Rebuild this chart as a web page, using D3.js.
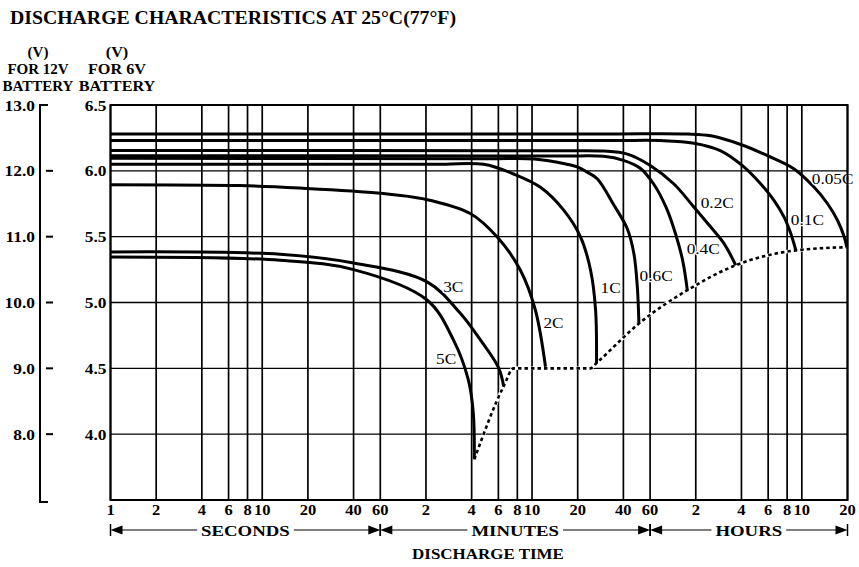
<!DOCTYPE html>
<html>
<head>
<meta charset="utf-8">
<script src="https://cdn.jsdelivr.net/npm/d3@7"></script>
<style>
  body { margin: 0; background: #fff; }
  svg text { font-family: "Liberation Serif", "Times New Roman", serif; fill: #000; }
</style>
</head>
<body>
<script>
const width = 859;
const height = 567;

// discharge curves: [time in seconds, volts for 6V battery]
const c005 = [[1, 6.28], [1700, 6.28], [6340, 6.28], [9040, 6.266], [14250, 6.20], [21380, 6.115], [32040, 6.014], [43420, 5.875], [53230, 5.75], [61940, 5.623], [68520, 5.497], [71290, 5.42]];
const c01 = [[1, 6.23], [2000, 6.23], [4230, 6.23], [7010, 6.21], [10520, 6.152], [14620, 6.039], [19320, 5.90], [23640, 5.774], [27520, 5.648], [30480, 5.522], [32880, 5.396]];
const c02 = [[1, 6.155], [900, 6.152], [1780, 6.15], [2550, 6.127], [3630, 6.039], [5170, 5.90], [7010, 5.724], [9040, 5.573], [11060, 5.447], [13210, 5.283]];
const c04 = [[1, 6.115], [900, 6.112], [1780, 6.11], [2400, 6.08], [3100, 6.02], [3800, 5.90], [4600, 5.72], [5300, 5.52], [5900, 5.32], [6340, 5.09]];
const c06 = [[1, 6.095], [300, 6.092], [620, 6.09], [1020, 6.05], [1191, 6.03], [1386, 5.99], [1614, 5.94], [2078, 5.74], [2547, 5.56], [2816, 5.37], [2965, 5.12], [3038, 4.84]];
const c1 = [[1, 6.05], [140, 6.05], [288, 6.05], [454, 5.976], [682, 5.875], [973, 5.70], [1254, 5.497], [1459, 5.245], [1574, 4.943], [1597, 4.54]];
const c2 = [[1, 5.895], [7.1, 5.888], [17.7, 5.869], [60, 5.83], [116, 5.787], [235, 5.676], [355, 5.495], [503, 5.245], [631, 4.943], [736, 4.512]];
const c3 = [[1, 5.384], [13.1, 5.366], [40, 5.30], [122, 5.157], [202, 4.918], [274, 4.716], [362, 4.502], [390, 4.363]];
const c5 = [[1, 5.346], [13.1, 5.321], [40, 5.25], [122, 5.019], [182, 4.716], [228, 4.414], [246, 4.164], [250, 3.809]];

// final discharge voltage line (dotted)
const cutoff = [[250, 3.809], [390, 4.363], [454, 4.50], [1459, 4.50], [1597, 4.54], [3038, 4.84], [6340, 5.094], [13210, 5.283], [32880, 5.396], [71290, 5.42]];

// curve labels
const labelText = ["0.05C", "0.1C", "0.2C", "0.4C", "0.6C", "1C", "2C", "3C", "5C"];
const labelTime = [41900, 30480, 7760, 6270, 3070, 1698, 713, 156, 140];
const labelVolt = [5.90, 5.59, 5.72, 5.37, 5.16, 5.07, 4.81, 5.08, 4.53];

// axes
const tickSeconds = [1, 2, 4, 6, 8, 10, 20, 40, 60, 120, 240, 360, 480, 600, 1200, 2400, 3600, 7200, 14400, 21600, 28800, 36000, 72000];
const tickLabels = ["1", "2", "4", "6", "8", "10", "20", "40", "60", "2", "4", "6", "8", "10", "20", "40", "60", "2", "4", "6", "8", "10", "20"];
const unitNames = ["SECONDS", "MINUTES", "HOURS"];
const unitStart = [1, 60, 3600];
const unitEnd = [60, 3600, 72000];
const volts6 = [4.0, 4.5, 5.0, 5.5, 6.0, 6.5];
const volts12 = [8.0, 9.0, 10.0, 11.0, 12.0, 13.0];
const gridVolts = [4.0, 4.5, 5.0, 5.5, 6.0];

const curves = [c005, c01, c02, c04, c06, c1, c2, c3, c5];

const svg = d3.select("body").append("svg")
  .attr("width", width)
  .attr("height", height);

const x = d3.scaleLog().domain([1, 72000]).range([110.5, 847.5]);
const y = d3.scaleLinear().domain([3.5, 6.5]).range([500, 105]);
const y12 = d3.scaleLinear().domain([7, 13]).range([500, 105]);

// stretch text horizontally (the scanned type is wide)
function widen(sel, k) {
  sel.each(function () {
    const len = this.getComputedTextLength();
    d3.select(this).attr("textLength", len * k).attr("lengthAdjust", "spacingAndGlyphs");
  });
}

// title
svg.append("text")
  .attr("x", 10).attr("y", 24)
  .attr("font-size", 19).attr("font-weight", "bold")
  .text("DISCHARGE CHARACTERISTICS AT 25°C(77°F)")
  .call(widen, 1.04);

// axis headers
const headers = [["(V)", "FOR 12V", "BATTERY"], ["(V)", "FOR 6V", "BATTERY"]];
const headerX = [38, 117];
const headerWide = [1.0, 1.08];
headers.forEach((lines, i) => {
  svg.selectAll(null).data(lines).enter().append("text")
    .attr("x", headerX[i])
    .attr("y", (d, j) => 57 + j * 17)
    .attr("text-anchor", "middle")
    .attr("font-size", 15).attr("font-weight", "bold")
    .text(d => d)
    .call(widen, headerWide[i]);
});

// 12V bracket axis
svg.append("path")
  .attr("d", `M48,${y12(13)}H40V${y12(7) + 2}H48`)
  .attr("fill", "none").attr("stroke", "#000").attr("stroke-width", 2);
svg.selectAll(".t12").data(volts12.filter(v => v < 13)).enter().append("line")
  .attr("x1", 46).attr("x2", 53)
  .attr("y1", d => y12(d)).attr("y2", d => y12(d))
  .attr("stroke", "#000").attr("stroke-width", 2);
svg.selectAll(".l12").data(volts12).enter().append("text")
  .attr("x", 35).attr("y", d => y12(d) + 5.5)
  .attr("text-anchor", "end")
  .attr("font-size", 15.5).attr("font-weight", "bold")
  .text(d => d.toFixed(1))
  .call(widen, 1.12);

// 6V labels
svg.selectAll(".l6").data(volts6).enter().append("text")
  .attr("x", 106.5).attr("y", d => y(d) + 5.5)
  .attr("text-anchor", "end")
  .attr("font-size", 15.5).attr("font-weight", "bold")
  .text(d => d.toFixed(1))
  .call(widen, 1.12);

// grid
const plot = svg.append("g");
plot.selectAll(".hg").data(gridVolts).enter().append("line")
  .attr("x1", x(1)).attr("x2", x(72000))
  .attr("y1", d => y(d)).attr("y2", d => y(d))
  .attr("stroke", "#000").attr("stroke-width", 1.3);
plot.selectAll(".vg").data(tickSeconds).enter().append("line")
  .attr("x1", d => x(d)).attr("x2", d => x(d))
  .attr("y1", y(6.5)).attr("y2", y(3.5))
  .attr("stroke", "#000").attr("stroke-width", 1.7);

// cutoff line, white underlay breaks the grid beneath it
const cutLine = d3.line().x(d => x(d[0])).y(d => y(d[1])).curve(d3.curveMonotoneX);
plot.append("path").attr("d", cutLine(cutoff))
  .attr("fill", "none").attr("stroke", "#fff").attr("stroke-width", 3.5);
plot.append("path").attr("d", cutLine(cutoff))
  .attr("fill", "none").attr("stroke", "#000").attr("stroke-width", 2.6)
  .attr("stroke-dasharray", "3.5,3");

// discharge curves
const line = d3.line().x(d => x(d[0])).y(d => y(d[1])).curve(d3.curveCatmullRom.alpha(0.5));
plot.selectAll(".curve").data(curves).enter().append("path")
  .attr("d", line)
  .attr("fill", "none").attr("stroke", "#000").attr("stroke-width", 3)
  .attr("stroke-linecap", "butt");

// curve labels
plot.selectAll(".clab").data(labelText).enter().append("text")
  .attr("x", (d, i) => x(labelTime[i]))
  .attr("y", (d, i) => y(labelVolt[i]))
  .attr("font-size", 15)
  .attr("stroke", "#fff").attr("stroke-width", 2.5).attr("paint-order", "stroke")
  .text(d => d)
  .call(widen, 1.15);

// plot frame on top
plot.append("rect")
  .attr("x", x(1)).attr("y", y(6.5))
  .attr("width", x(72000) - x(1)).attr("height", y(3.5) - y(6.5))
  .attr("fill", "none").attr("stroke", "#000").attr("stroke-width", 2);

// x tick labels
svg.selectAll(".xl").data(tickSeconds).enter().append("text")
  .attr("x", d => x(d)).attr("y", 515)
  .attr("text-anchor", "middle")
  .attr("font-size", 15).attr("font-weight", "bold")
  .text((d, i) => tickLabels[i])
  .call(widen, 1.1);

// unit arrows
const arrowY = 530;
unitNames.forEach((name, i) => {
  const xs = x(unitStart[i]);
  const xe = x(unitEnd[i]);
  const g = svg.append("g");
  const t = g.append("text")
    .attr("x", (xs + xe) / 2).attr("y", arrowY + 5.5)
    .attr("text-anchor", "middle")
    .attr("font-size", 15).attr("font-weight", "bold")
    .text(name)
    .call(widen, 1.25);
  const tw = +t.attr("textLength");
  const tl = (xs + xe) / 2 - tw / 2 - 4;
  const tr = (xs + xe) / 2 + tw / 2 + 4;
  g.append("line").attr("x1", xs + 10).attr("x2", tl).attr("y1", arrowY).attr("y2", arrowY)
    .attr("stroke", "#000").attr("stroke-width", 1);
  g.append("line").attr("x1", tr).attr("x2", xe - 10).attr("y1", arrowY).attr("y2", arrowY)
    .attr("stroke", "#000").attr("stroke-width", 1);
  g.append("path").attr("d", `M${xs},${arrowY}L${xs + 12},${arrowY - 4.5}V${arrowY + 4.5}Z`);
  g.append("path").attr("d", `M${xe},${arrowY}L${xe - 12},${arrowY - 4.5}V${arrowY + 4.5}Z`);
  g.selectAll("line.bar").data([xs, xe]).enter().append("line")
    .attr("class", "bar")
    .attr("x1", d => d).attr("x2", d => d)
    .attr("y1", arrowY - 6).attr("y2", arrowY + 6)
    .attr("stroke", "#000").attr("stroke-width", 1.5);
});

svg.append("text")
  .attr("x", 488).attr("y", 559)
  .attr("text-anchor", "middle")
  .attr("font-size", 15).attr("font-weight", "bold")
  .text("DISCHARGE TIME")
  .call(widen, 1.13);
</script>
</body>
</html>
